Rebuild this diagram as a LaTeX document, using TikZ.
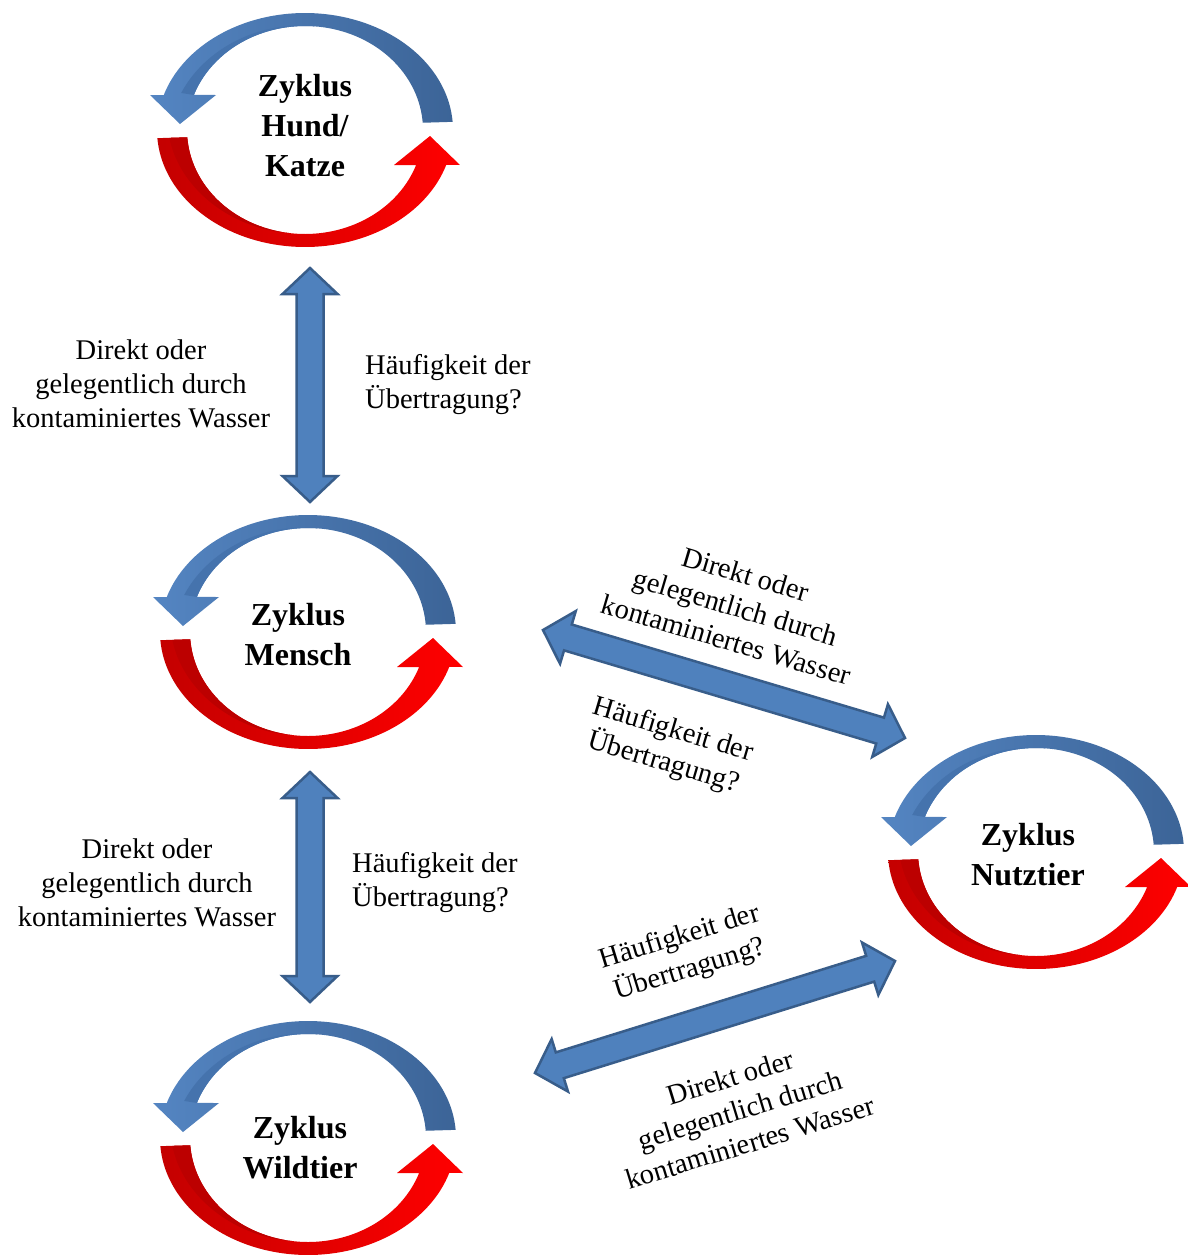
\documentclass[tikz,border=0pt]{standalone}
\usepackage{fontspec}
\setmainfont{Liberation Serif}
\usetikzlibrary{calc}
\definecolor{arrFill}{HTML}{4F81BD}
\definecolor{arrDraw}{HTML}{385D8A}
\definecolor{cbL}{HTML}{5485C2}
\definecolor{cbR}{HTML}{3C6497}
\definecolor{cbIn}{HTML}{4573AD}
\definecolor{crL}{HTML}{C40000}
\definecolor{crR}{HTML}{FF0000}
\definecolor{crIn}{HTML}{BC0000}
\newcommand\fahl{26pt}
\newcommand\fahw{27.5pt}
\newcommand\fash{13.5pt}
\tikzset{
  fatarrow/.style={fill=arrFill,draw=arrDraw,line width=2.5pt,line join=miter},
  cyctext/.style={inner sep=0pt,align=center,font=\fontsize{32}{40}\selectfont\bfseries},
  lbl/.style={inner sep=0pt,font=\fontsize{28.5}{34}\selectfont},
}
\newcommand\fatarrow[2]{%
  \filldraw[fatarrow] (#1)
    -- ($(#1)!\fahl!(#2)!\fahw!90:(#2)$)
    -- ($(#1)!\fahl!(#2)!\fash!90:(#2)$)
    -- ($(#2)!\fahl!(#1)!\fash!-90:(#1)$)
    -- ($(#2)!\fahl!(#1)!\fahw!-90:(#1)$)
    -- (#2)
    -- ($(#2)!\fahl!(#1)!\fahw!90:(#1)$)
    -- ($(#2)!\fahl!(#1)!\fash!90:(#1)$)
    -- ($(#1)!\fahl!(#2)!\fash!-90:(#2)$)
    -- ($(#1)!\fahl!(#2)!\fahw!-90:(#2)$)
    -- cycle;}
\newcommand\cycband[1]{%
  \begin{scope}[shift={(#1)}]
    % blue upper arrow
    \shade[left color=cbL,right color=cbR]
      plot[domain=-4:-162.7,samples=70]({148*cos(\x)},{117*sin(\x)})
      -- (-155,-35) -- (-125,-6) -- (-89,-35)
      -- plot[domain=-160.3:-4,samples=70]({118*cos(\x)},{104*sin(\x)}) -- cycle;
    \fill[cbIn]
      plot[domain=-85:-160.3,samples=50]({(118+30*0.45*(-85-\x)/75.3)*cos(\x)},{(104+13*0.45*(-85-\x)/75.3)*sin(\x)})
      -- plot[domain=-160.3:-85,samples=50]({118*cos(\x)},{104*sin(\x)}) -- cycle;
    % red lower arrow
    \shade[left color=crL,right color=crR]
      plot[domain=-4:-162.7,samples=70]({-148*cos(\x)},{-117*sin(\x)})
      -- (155,35) -- (125,6) -- (89,35)
      -- plot[domain=-160.3:-4,samples=70]({-118*cos(\x)},{-104*sin(\x)}) -- cycle;
    \fill[crIn]
      plot[domain=-4:-82,samples=50]({-(118+30*0.6*(\x+82)/78)*cos(\x)},{-(104+13*0.6*(\x+82)/78)*sin(\x)})
      -- plot[domain=-82:-4,samples=50]({-118*cos(\x)},{-104*sin(\x)}) -- cycle;
  \end{scope}}
\begin{document}
\begin{tikzpicture}[x=1pt,y=-1pt]
  \fill[white] (0,0) rectangle (1188,1256);
  \useasboundingbox (0,0) rectangle (1188,1256);

  % cycle centres
  \coordinate (c1) at (305,130);
  \coordinate (c2) at (308,632);
  \coordinate (c3) at (1036,852);
  \coordinate (c4) at (308,1138);
  \cycband{c1}
  \cycband{c2}
  \cycband{c3}
  \cycband{c4}

  \node[cyctext] (hk) at (305,126) {Zyklus\\Hund/\\Katze};
  \node[cyctext] (me) at (298,635) {Zyklus\\Mensch};
  \node[cyctext] (nt) at (1028,855) {Zyklus\\Nutztier};
  \node[cyctext] (wt) at (300,1148) {Zyklus\\Wildtier};

  % connector ends
  \coordinate (v1a) at (310,268);
  \coordinate (v1b) at (310,502);
  \coordinate (v2a) at (310,772);
  \coordinate (v2b) at (310,1002);
  \coordinate (d1a) at (543,630);
  \coordinate (d1b) at (905,738);
  \coordinate (d2a) at (535,1073);
  \coordinate (d2b) at (895,961);
  \fatarrow{v1a}{v1b}
  \fatarrow{v2a}{v2b}
  \fatarrow{d1a}{d1b}
  \fatarrow{d2a}{d2b}

  % labels
  \node[lbl,align=center] (l1) at (141,384) {Direkt oder\\gelegentlich durch\\kontaminiertes Wasser};
  \node[lbl,align=left,anchor=west] (r1) at (365,385) {Häufigkeit der\\Übertragung?};
  \node[lbl,align=center] (l2) at (147,883) {Direkt oder\\gelegentlich durch\\kontaminiertes Wasser};
  \node[lbl,align=left,anchor=west] (r2) at (352,883) {Häufigkeit der\\Übertragung?};
  \node[lbl,align=center,rotate=-16.5] (t1) at (736,607) {Direkt oder\\gelegentlich durch\\kontaminiertes Wasser};
  \node[lbl,align=center,rotate=-16.5] (t2) at (668,747) {Häufigkeit der\\Übertragung?};
  \node[lbl,align=center,rotate=17] (t3) at (685,954) {Häufigkeit der\\Übertragung?};
  \node[lbl,align=center,rotate=17] (t4) at (740,1110) {Direkt oder\\gelegentlich durch\\kontaminiertes Wasser};
\end{tikzpicture}
\end{document}
